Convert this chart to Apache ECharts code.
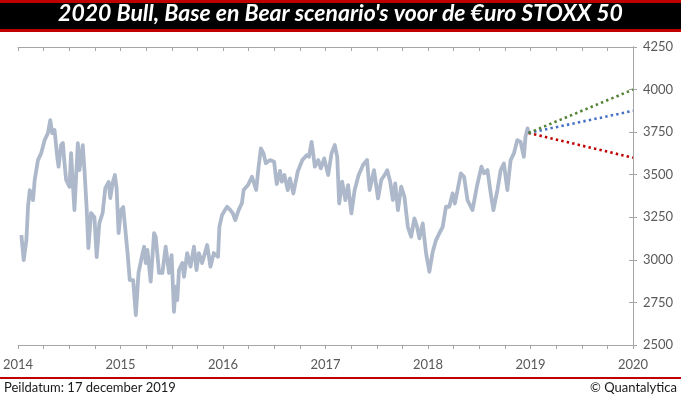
<!DOCTYPE html>
<html>
<head>
<meta charset="utf-8">
<script src="https://cdn.jsdelivr.net/npm/echarts@6/dist/echarts.min.js"></script>
<style>
html,body{margin:0;padding:0;background:#fff;}
#chart{width:681px;height:399px;}
</style>
</head>
<body>
<div id="chart"></div>
<script>
const titleText = "2020 Bull, Base en Bear scenario's voor de €uro STOXX 50";
const footLeft = "Peildatum: 17 december 2019";
const footRight = "© Quantalytica";
const yearTicks = [2014, 2015, 2016, 2017, 2018, 2019, 2020];
const yTicks = [2500, 2750, 3000, 3250, 3500, 3750, 4000, 4250];

// time in years (axis units) and index level
const priceT = [2014.032,2014.055,2014.081,2014.097,2014.114,2014.146,2014.162,2014.194,2014.226,2014.259,2014.291,2014.314,2014.333,2014.356,2014.382,2014.395,2014.420,2014.437,2014.453,2014.469,2014.502,2014.517,2014.550,2014.583,2014.599,2014.631,2014.648,2014.670,2014.686,2014.712,2014.745,2014.767,2014.793,2014.825,2014.851,2014.883,2014.900,2014.922,2014.945,2014.961,2014.981,2015.003,2015.026,2015.068,2015.090,2015.123,2015.149,2015.175,2015.207,2015.230,2015.246,2015.262,2015.294,2015.327,2015.343,2015.376,2015.408,2015.440,2015.473,2015.498,2015.521,2015.537,2015.553,2015.570,2015.602,2015.619,2015.650,2015.683,2015.716,2015.741,2015.764,2015.796,2015.845,2015.877,2015.910,2015.951,2015.964,2015.990,2016.039,2016.071,2016.094,2016.119,2016.152,2016.184,2016.201,2016.243,2016.282,2016.323,2016.347,2016.369,2016.395,2016.417,2016.459,2016.498,2016.524,2016.556,2016.573,2016.599,2016.631,2016.653,2016.686,2016.728,2016.774,2016.816,2016.838,2016.864,2016.896,2016.929,2016.954,2016.987,2017.026,2017.058,2017.090,2017.114,2017.133,2017.162,2017.194,2017.220,2017.252,2017.284,2017.323,2017.366,2017.405,2017.430,2017.473,2017.512,2017.544,2017.576,2017.602,2017.631,2017.657,2017.680,2017.706,2017.738,2017.770,2017.803,2017.835,2017.867,2017.893,2017.916,2017.948,2017.981,2018.013,2018.046,2018.078,2018.110,2018.143,2018.175,2018.207,2018.240,2018.262,2018.288,2018.320,2018.352,2018.385,2018.434,2018.476,2018.521,2018.547,2018.580,2018.612,2018.638,2018.677,2018.709,2018.740,2018.774,2018.806,2018.838,2018.871,2018.903,2018.935,2018.951,2018.971,2018.981];
const priceV = [3146,2999,3116,3312,3410,3351,3469,3586,3627,3703,3744,3821,3744,3762,3605,3547,3674,3686,3568,3469,3429,3627,3292,3686,3527,3674,3527,3292,3069,3275,3251,3016,3216,3275,3421,3457,3363,3451,3498,3421,3157,3292,3310,3040,2881,2881,2676,2923,3016,3077,2981,3058,2872,3157,3136,2923,2923,3077,2923,3028,2695,2842,2764,2940,2981,2901,3040,2960,3077,2940,3040,2981,3087,2960,3040,3018,3194,3263,3312,3292,3275,3234,3292,3333,3410,3439,3488,3410,3547,3654,3625,3568,3586,3576,3445,3522,3459,3498,3410,3478,3390,3517,3586,3615,3605,3693,3547,3586,3537,3596,3498,3625,3674,3605,3331,3459,3351,3439,3273,3410,3498,3557,3586,3410,3527,3361,3469,3498,3527,3459,3351,3449,3292,3430,3370,3194,3136,3244,3194,3126,3214,3038,2930,3048,3116,3155,3194,3312,3312,3390,3331,3410,3508,3488,3351,3292,3429,3547,3508,3527,3390,3292,3410,3527,3566,3410,3586,3625,3703,3693,3605,3723,3772,3744];

// scenarios: start and end point
const scenT = [2018.981, 2020];
const bullV = [3745, 4000];
const baseV = [3745, 3875];
const bearV = [3745, 3600];

const zip = (a, b) => a.map((x, i) => [x, b[i]]);
const labelColor = '#595959';
const axisColor = '#a6a6a6';
const font = 'Lato, "Liberation Sans", sans-serif';

const chart = echarts.init(document.getElementById('chart'), null, {renderer: 'canvas'});

const xBase = {
  type: 'value', min: 2014, max: 2020, interval: 1,
  axisLine: {show: true, lineStyle: {color: axisColor, width: 1}},
  splitLine: {show: false},
  minorTick: {show: true, splitNumber: 4, length: 4, lineStyle: {color: axisColor}},
  minorSplitLine: {show: false}
};
const yBase = {
  type: 'value', min: 2500, max: 4250, interval: 250, position: 'right',
  axisLine: {show: true, lineStyle: {color: axisColor, width: 1}},
  splitLine: {show: false}
};

const dotted = (color) => ({color: color, width: 2.6, type: [2.4, 3.2], cap: 'butt'});

chart.setOption({
  animation: false,
  backgroundColor: '#ffffff',
  grid: {left: 15, right: 48, top: 47, bottom: 54, containLabel: false},
  xAxis: [
    Object.assign({}, xBase, {
      axisTick: {show: true, length: 4, lineStyle: {color: axisColor}},
      axisLabel: {show: true, margin: 13, color: labelColor, fontSize: 13, fontFamily: font,
        formatter: (v) => yearTicks.includes(Math.round(v)) ? String(Math.round(v)) : ''}
    }),
    Object.assign({}, xBase, {
      axisTick: {show: true, inside: true, length: 4, lineStyle: {color: axisColor}},
      minorTick: {show: true, splitNumber: 4, length: 4, lineStyle: {color: axisColor}},
      axisLabel: {show: false}
    })
  ],
  yAxis: [
    Object.assign({}, yBase, {
      axisTick: {show: true, length: 4, lineStyle: {color: axisColor}},
      axisLabel: {show: true, margin: 10, color: labelColor, fontSize: 13, fontFamily: font,
        formatter: (v) => String(v)}
    }),
    Object.assign({}, yBase, {
      axisTick: {show: true, inside: true, length: 4, lineStyle: {color: axisColor}},
      axisLabel: {show: false}
    })
  ],
  series: [
    {type: 'line', data: zip(priceT, priceV), showSymbol: false, symbol: 'none',
      lineStyle: {color: '#adb9ca', width: 3.8, join: 'round'}, z: 2},
    {type: 'line', data: zip(scenT, bearV), symbol: 'none', lineStyle: dotted('#c00000'), z: 3},
    {type: 'line', data: zip(scenT, baseV), symbol: 'none', lineStyle: dotted('#4472c4'), z: 4},
    {type: 'line', data: zip(scenT, bullV), symbol: 'none', lineStyle: dotted('#548235'), z: 5}
  ],
  graphic: [
    {type: 'rect', left: 0, top: 0, shape: {width: 681, height: 32}, style: {fill: '#c00000'}, z: 10},
    {type: 'rect', left: 0, top: 3, shape: {width: 681, height: 26}, style: {fill: '#000000'}, z: 11},
    {type: 'text', left: 'center', top: 2, z: 12,
      style: {text: titleText, fill: '#ffffff', font: 'italic bold 23px Lato, "Open Sans", sans-serif'}},
    {type: 'rect', left: 0, top: 377, shape: {width: 681, height: 2}, style: {fill: '#c00000'}, z: 10},
    {type: 'text', left: 4, top: 381, z: 12,
      style: {text: footLeft, fill: '#1a1a1a', font: '13px Lato, "Liberation Sans", sans-serif'}},
    {type: 'text', right: 4, top: 381, z: 12,
      style: {text: footRight, fill: '#1a1a1a', font: '13px Lato, "Liberation Sans", sans-serif'}}
  ]
});
</script>
</body>
</html>
